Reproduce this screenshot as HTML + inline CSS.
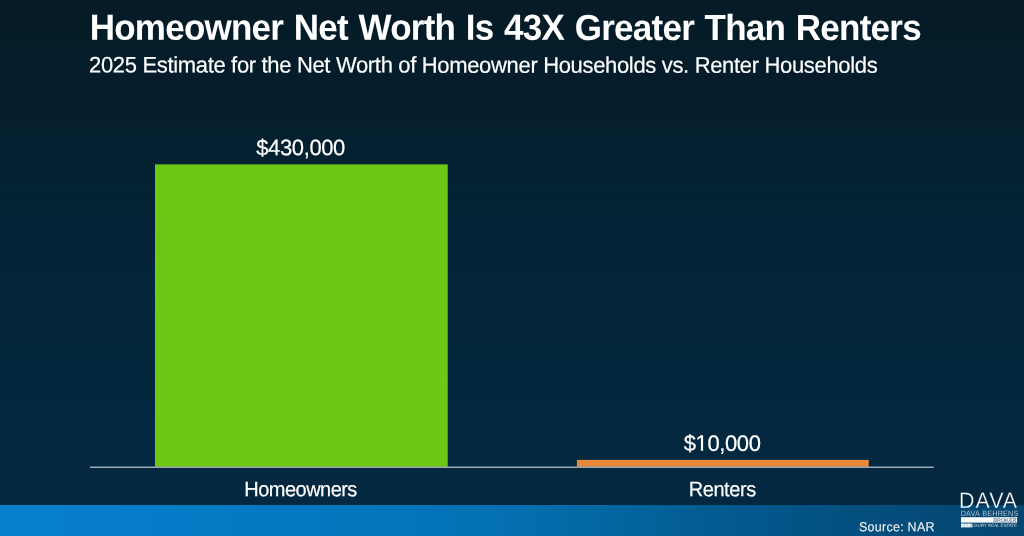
<!DOCTYPE html>
<html lang="en">
<head>
<meta charset="utf-8">
<title>Homeowner Net Worth Is 43X Greater Than Renters</title>
<style>
  html, body { margin: 0; padding: 0; }
  body { width: 1024px; height: 536px; overflow: hidden; background: #03283f; }
  #slide { position: relative; width: 1024px; height: 536px; overflow: hidden;
    background: linear-gradient(180deg, #051b27 0%, #051e2c 19%, #032335 37%, #04263a 56%, #03283f 78%, #03283f 100%); }
  #strip { position: absolute; left: 0; top: 505px; width: 1024px; height: 31px;
    background: linear-gradient(90deg, #0780ce 0%, #047bc5 20%, #0375ba 40%, #036fb0 50%, #0366a0 60%, #035b90 70%, #035283 80%, #044b79 90%, #054670 100%); }
  svg { position: absolute; left: 0; top: 0; }
  svg text { text-rendering: geometricPrecision; font-family: "Liberation Sans", Arial, Helvetica, sans-serif; fill: #fff; white-space: pre; }
</style>
</head>
<body>
<div id="slide">
  <div id="strip"></div>
  <svg width="1024" height="536" viewBox="0 0 1024 536">
    <defs>
      <linearGradient id="lgthin" gradientUnits="userSpaceOnUse" x1="0" y1="-3.020" x2="0" y2="-2.920">
        <stop offset="0" stop-color="#04273f"/>
        <stop offset="1" stop-color="#064d7b"/>
      </linearGradient>
    </defs>
    <rect id="bar-homeowners" x="155" y="164.35" width="292.75" height="302.5" fill="#6cc812"/>
    <rect id="bar-renters" x="576.9" y="459.9" width="291.85" height="7" fill="#e8883a"/>
    <rect id="axis" x="90" y="466.5" width="843.8" height="1.5" fill="#9da8b2"/>
    <text transform="translate(505.259 39.85) skewY(0.03) scale(1 1.038)" font-size="35" font-weight="bold" text-anchor="middle" letter-spacing="-0.753" word-spacing="1.64">Homeowner Net Worth Is 43X Greater Than Renters</text>
    <text transform="translate(483.175 72.658) skewY(0.03) scale(1 1.025)" font-size="22" text-anchor="middle" stroke="#fff" stroke-width="0.18" letter-spacing="-0.334">2025 Estimate for the Net Worth of Homeowner Households vs. Renter Households</text>
    <text transform="translate(300.606 155.353) skewY(0.03) scale(1 1.02)" font-size="22" text-anchor="middle" stroke="#fff" stroke-width="0.18" letter-spacing="-0.384">$430,000</text>
    <text transform="translate(722.114 450.886) skewY(0.03) scale(1 1.02)" font-size="22" text-anchor="middle" stroke="#fff" stroke-width="0.18" letter-spacing="-0.399">$10,000</text>
    <rect class="foot" x="696.4" y="448.85" width="4.45" height="2.5" fill="#03283f"/>
    <rect class="foot" x="703.15" y="448.85" width="4.1" height="2.5" fill="#03283f"/>
    <text transform="translate(300.564 496.267) skewY(0.03) scale(1 1.04)" font-size="20" text-anchor="middle" stroke="#fff" stroke-width="0.18" letter-spacing="-0.537">Homeowners</text>
    <text transform="translate(722.191 496.267) skewY(0.03) scale(1 1.04)" font-size="20" text-anchor="middle" stroke="#fff" stroke-width="0.18" letter-spacing="-0.427">Renters</text>
    <text transform="translate(896.88 531.231) skewY(0.03) scale(1 1.05)" font-size="12.5" text-anchor="middle" stroke="#ededed" stroke-width="0.15" style="fill:#ededed" letter-spacing="0.253">Source: NAR</text>
    <text transform="translate(959.0 508.0) scale(0.96 1.01)" font-size="22.3" letter-spacing="1.05" stroke="url(#lgthin)" stroke-width="0.35">DAVA</text>
    <text transform="translate(960.7 516.1) scale(0.99 1.06)" font-size="7.3" style="fill:#bcc4cd" letter-spacing="0.18" word-spacing="0.5">DAVA BEHRENS</text>
    <rect x="961" y="517.2" width="56.1" height="5.4" fill="#fff"/>
    <text transform="translate(1016.5 522.0) scale(1.0 1.0)" font-size="5.4" font-weight="bold" text-anchor="end" style="fill:#6c839b">BROKER</text>
    <rect x="961" y="523.6" width="11.3" height="3.9" fill="#fff" opacity="0.75"/>
    <text transform="translate(961.3 527.2) scale(1.0 1.0)" font-size="4.9" font-weight="bold" style="fill:#ffffff">EXP</text>
    <text transform="translate(1016.9 527.2) scale(0.95 1.0)" font-size="4.6" text-anchor="end" style="fill:#d3d9e0">• LUXURY REAL ESTATE</text>
  </svg>
</div>
</body>
</html>
